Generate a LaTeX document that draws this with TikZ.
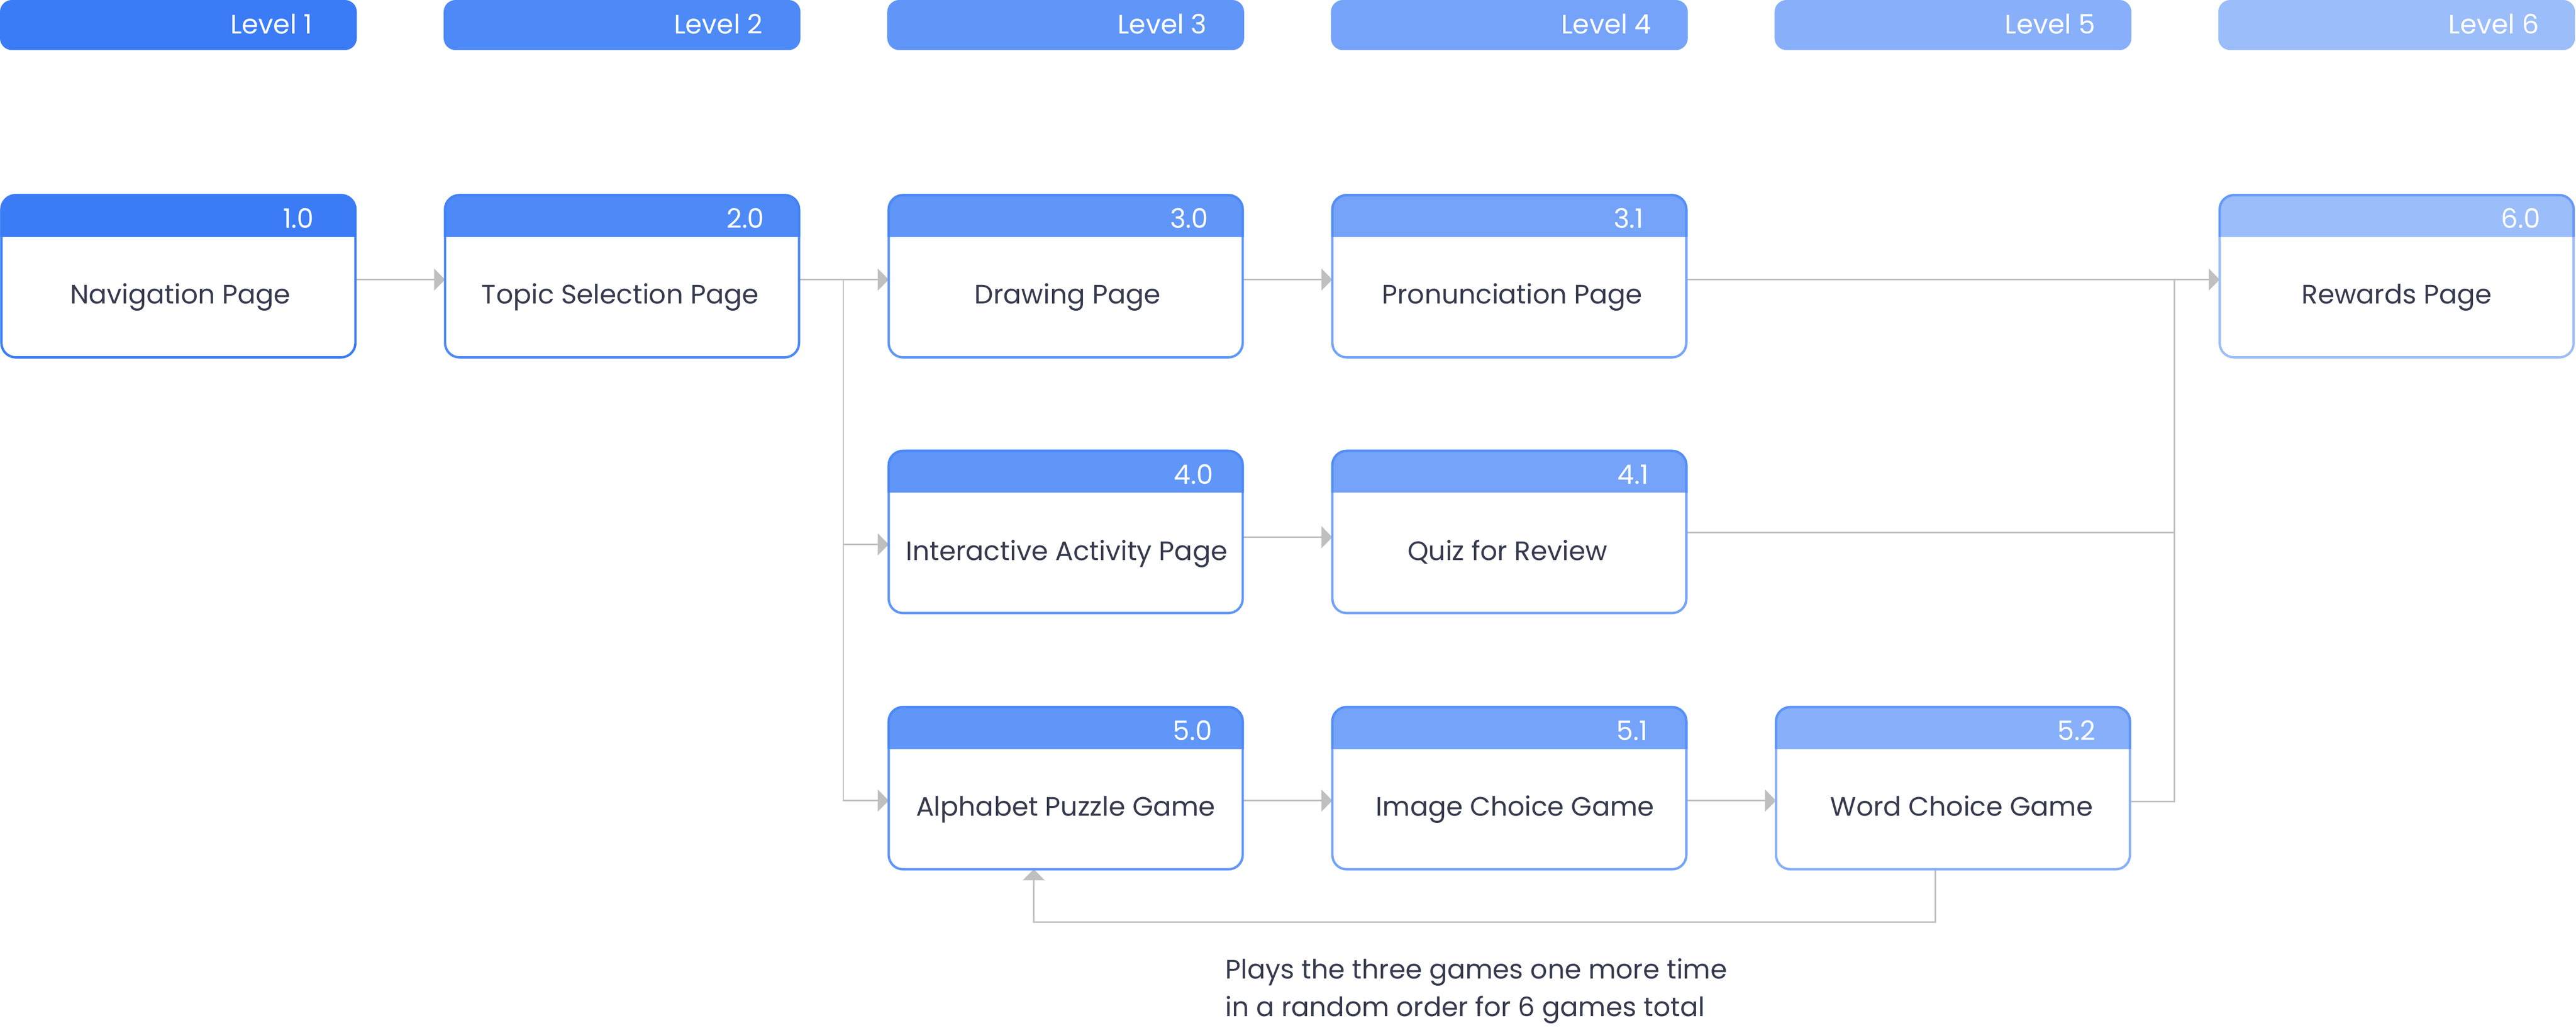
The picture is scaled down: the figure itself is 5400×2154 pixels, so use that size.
\documentclass[tikz,border=0pt]{standalone}
\usepackage{fontspec}
\setmainfont{Poppins}
\usetikzlibrary{arrows.meta,backgrounds}

\definecolor{lvA}{HTML}{3B7CF6}
\definecolor{lvB}{HTML}{4D8AF7}
\definecolor{lvC}{HTML}{6096F8}
\definecolor{lvD}{HTML}{74A3F9}
\definecolor{lvE}{HTML}{88B0FA}
\definecolor{lvF}{HTML}{9BBDFA}
\definecolor{ink}{HTML}{363A4D}
\definecolor{wire}{HTML}{BFBFBF}

\begin{document}
\begin{tikzpicture}[x=0.2pt,y=-0.2pt,
  levelbar/.style={fill=#1, rounded corners=5pt, minimum width=149.6pt, minimum height=21pt, inner sep=0pt},
  pagebox/.style={draw=#1, fill=white, line width=1pt, rounded corners=6pt, minimum width=148.4pt, minimum height=68pt, inner sep=0pt, outer sep=0pt,
    path picture={\fill[#1, sharp corners] (path picture bounding box.north west) rectangle ([yshift=-17.6pt]path picture bounding box.north east);}},
  headline/.style={draw=#1!45!lvA, line width=1pt, rounded corners=6pt},
  tagtext/.style={anchor=base west, text=white, inner sep=0pt, font=\fontsize{11.2pt}{15.6pt}\selectfont},
  pagetext/.style={anchor=base, text=ink, inner sep=0pt, font=\fontsize{11.2pt}{15.6pt}\selectfont},
  notetext/.style={anchor=base west, align=left, text=ink, inner sep=0pt, font=\fontsize{11.2pt}{15.6pt}\selectfont},
  link/.style={draw=wire, line width=0.6pt},
  flow/.style={link, -{Triangle[length=4.6pt,width=9.2pt]}}
]
\useasboundingbox (0,0) rectangle (5400,2154);

% Level bars
\node [levelbar=lvA] (lv1) at (374,52.5) {};
\node [levelbar=lvB] (lv2) at (1304,52.5) {};
\node [levelbar=lvC] (lv3) at (2234,52.5) {};
\node [levelbar=lvD] (lv4) at (3164,52.5) {};
\node [levelbar=lvE] (lv5) at (4094,52.5) {};
\node [levelbar=lvF] (lv6) at (5024,52.5) {};
% Text Node
\node [tagtext] (lv1t) at (482,71) {Level 1};
\node [tagtext] (lv2t) at (1412,71) {Level 2};
\node [tagtext] (lv3t) at (2342,71) {Level 3};
\node [tagtext] (lv4t) at (3272,71) {Level 4};
\node [tagtext] (lv5t) at (4202,71) {Level 5};
\node [tagtext] (lv6t) at (5132,71) {Level 6};

% Page 1.0
\node [pagebox=lvA] (p10) at (374,579) {};
\draw [headline=lvA] ([yshift=-17.6pt]p10.north west) |- (p10.north east) -- ([yshift=-17.6pt]p10.north east);
\node [tagtext] (p10n) at (592,478) {1.0};
\node [pagetext] (p10t) at (378,637) {Navigation Page};
% Page 2.0
\node [pagebox=lvB] (p20) at (1304,579) {};
\draw [headline=lvB] ([yshift=-17.6pt]p20.north west) |- (p20.north east) -- ([yshift=-17.6pt]p20.north east);
\node [tagtext] (p20n) at (1522,478) {2.0};
\node [pagetext] (p20t) at (1300,637) {Topic Selection Page};
% Page 3.0
\node [pagebox=lvC] (p30) at (2234,579) {};
\draw [headline=lvC] ([yshift=-17.6pt]p30.north west) |- (p30.north east) -- ([yshift=-17.6pt]p30.north east);
\node [tagtext] (p30n) at (2452,478) {3.0};
\node [pagetext] (p30t) at (2238,637) {Drawing Page};
% Page 3.1
\node [pagebox=lvD] (p31) at (3164,579) {};
\draw [headline=lvD] ([yshift=-17.6pt]p31.north west) |- (p31.north east) -- ([yshift=-17.6pt]p31.north east);
\node [tagtext] (p31n) at (3382,478) {3.1};
\node [pagetext] (p31t) at (3170,637) {Pronunciation Page};
% Page 6.0
\node [pagebox=lvF] (p60) at (5024,579) {};
\draw [headline=lvF] ([yshift=-17.6pt]p60.north west) |- (p60.north east) -- ([yshift=-17.6pt]p60.north east);
\node [tagtext] (p60n) at (5242,478) {6.0};
\node [pagetext] (p60t) at (5024,637) {Rewards Page};
% Page 4.0
\node [pagebox=lvC] (p40) at (2234,1115) {};
\draw [headline=lvC] ([yshift=-17.6pt]p40.north west) |- (p40.north east) -- ([yshift=-17.6pt]p40.north east);
\node [tagtext] (p40n) at (2460,1015) {4.0};
\node [pagetext] (p40t) at (2236,1174) {Interactive Activity Page};
% Page 4.1
\node [pagebox=lvD] (p41) at (3164,1115) {};
\draw [headline=lvD] ([yshift=-17.6pt]p41.north west) |- (p41.north east) -- ([yshift=-17.6pt]p41.north east);
\node [tagtext] (p41n) at (3390,1015) {4.1};
\node [pagetext] (p41t) at (3160,1174) {Quiz for Review};
% Page 5.0
\node [pagebox=lvC] (p50) at (2234,1652) {};
\draw [headline=lvC] ([yshift=-17.6pt]p50.north west) |- (p50.north east) -- ([yshift=-17.6pt]p50.north east);
\node [tagtext] (p50n) at (2458,1551) {5.0};
\node [pagetext] (p50t) at (2234,1710) {Alphabet Puzzle Game};
% Page 5.1
\node [pagebox=lvD] (p51) at (3164,1652) {};
\draw [headline=lvD] ([yshift=-17.6pt]p51.north west) |- (p51.north east) -- ([yshift=-17.6pt]p51.north east);
\node [tagtext] (p51n) at (3388,1551) {5.1};
\node [pagetext] (p51t) at (3176,1710) {Image Choice Game};
% Page 5.2
\node [pagebox=lvE] (p52) at (4094,1652) {};
\draw [headline=lvE] ([yshift=-17.6pt]p52.north west) |- (p52.north east) -- ([yshift=-17.6pt]p52.north east);
\node [tagtext] (p52n) at (4312,1551) {5.2};
\node [pagetext] (p52t) at (4112,1710) {Word Choice Game};

% Text Node
\node [notetext] (note) at (2568,2130) {Plays the three games one more time\\in a random order for 6 games total};

% Connectors
\coordinate (fork1) at (1768,586);
\coordinate (fork2) at (1768,1141);
\coordinate (fork3) at (1768,1678);
\coordinate (join1) at (4558,586);
\coordinate (join2) at (4558,1116);
\coordinate (join3) at (4558,1680);
\coordinate (loop) at (2167,1933);

\begin{pgfonlayer}{background}
\draw [flow] (p10.east |- fork1) -- (p20.west |- fork1);
\draw [flow] (p20.east |- fork1) -- (p30.west |- fork1);
\draw [flow] (p20.east |- fork1) -| (fork3) -- (p50.west |- fork3);
\draw [flow] (fork2) -- (p40.west |- fork2);
\draw [flow] (p30.east |- fork1) -- (p31.west |- fork1);
\draw [flow] (p31.east |- join1) -- (p60.west |- join1);
\draw [flow] ([yshift=-2.2pt]p40.east) -- ([yshift=-2.2pt]p41.west);
\draw [flow] (p50.east |- fork3) -- (p51.west |- fork3);
\draw [flow] (p51.east |- fork3) -- (p52.west |- fork3);
\draw [link] (p52.east |- join3) -| (join1);
\draw [link] (p41.east |- join2) -- (join2);
\draw [flow] ([xshift=-7.4pt]p52.south) |- (loop) -- (loop |- p50.south);
\end{pgfonlayer}

\end{tikzpicture}
\end{document}
